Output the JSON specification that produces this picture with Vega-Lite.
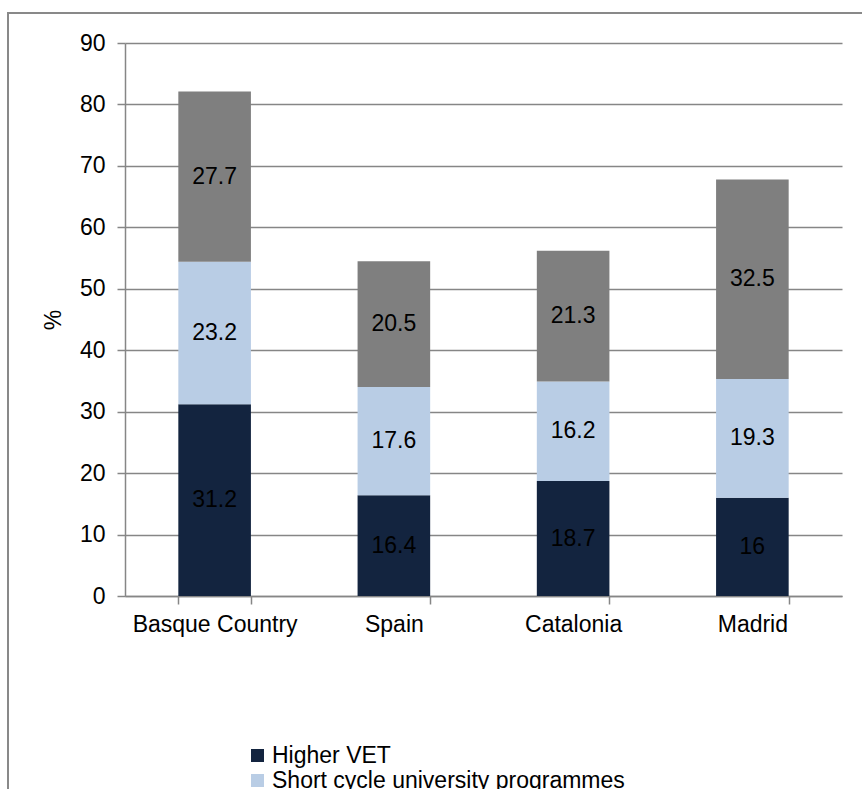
{
  "$schema": "https://vega.github.io/schema/vega-lite/v6.json",
  "autosize": {"type": "none"},
  "padding": {"left": 8, "top": 13, "right": 0, "bottom": 0},
  "width": 860,
  "height": 790,
  "background": "white",
  "config": {
    "font": "Liberation Sans",
    "view": {"stroke": "#898989", "strokeWidth": 2},
    "axis": {"labelFont": "Liberation Sans", "titleFont": "Liberation Sans"}
  },
  "data": {
    "values": [
      {"region": "Basque Country", "type": "Higher VET", "value": 31.2},
      {"region": "Basque Country", "type": "Short cycle university programmes", "value": 23.2},
      {"region": "Basque Country", "type": "Long cycle university programmes", "value": 27.7},
      {"region": "Spain", "type": "Higher VET", "value": 16.4},
      {"region": "Spain", "type": "Short cycle university programmes", "value": 17.6},
      {"region": "Spain", "type": "Long cycle university programmes", "value": 20.5},
      {"region": "Catalonia", "type": "Higher VET", "value": 18.7},
      {"region": "Catalonia", "type": "Short cycle university programmes", "value": 16.2},
      {"region": "Catalonia", "type": "Long cycle university programmes", "value": 21.3},
      {"region": "Madrid", "type": "Higher VET", "value": 16},
      {"region": "Madrid", "type": "Short cycle university programmes", "value": 19.3},
      {"region": "Madrid", "type": "Long cycle university programmes", "value": 32.5}
    ]
  },
  "transform": [
    {"calculate": "datum.type === 'Higher VET' ? 0 : datum.type === 'Short cycle university programmes' ? 1 : 2", "as": "order"},
    {"stack": "value", "groupby": ["region"], "sort": [{"field": "order", "order": "ascending"}], "as": ["v0", "v1"]},
    {"calculate": "(datum.v0 + datum.v1) / 2", "as": "mid"}
  ],
  "encoding": {
    "x": {
      "field": "region",
      "type": "nominal",
      "sort": ["Basque Country", "Spain", "Catalonia", "Madrid"],
      "scale": {"range": [117, 834], "paddingInner": 0.595, "paddingOuter": 0.2975},
      "axis": {
        "title": null,
        "offset": -207,
        "labelAngle": 0,
        "labelFontSize": 23,
        "labelColor": "#000000",
        "labelPadding": 9,
        "tickBand": "extent",
        "tickSize": 8,
        "tickColor": "#868686",
        "tickWidth": 1.5,
        "domainColor": "#868686",
        "domainWidth": 1.5,
        "grid": false
      }
    }
  },
  "layer": [
    {
      "mark": {"type": "bar"},
      "encoding": {
        "y": {
          "field": "v1",
          "type": "quantitative",
          "scale": {"domain": [0, 90], "range": [583, 30], "nice": false},
          "axis": {
            "title": "%",
            "titleFontSize": 23,
            "titleFontWeight": "normal",
            "titleColor": "#000000",
            "titlePadding": 14,
            "offset": -117,
            "values": [0, 10, 20, 30, 40, 50, 60, 70, 80, 90],
            "labelFontSize": 23,
            "labelColor": "#000000",
            "labelPadding": 12,
            "tickSize": 8,
            "tickColor": "#868686",
            "tickWidth": 1.5,
            "domainColor": "#868686",
            "domainWidth": 1.5,
            "grid": true,
            "gridColor": "#868686",
            "gridWidth": 1.5
          }
        },
        "y2": {"field": "v0"},
        "color": {
          "field": "type",
          "type": "nominal",
          "sort": ["Higher VET", "Short cycle university programmes", "Long cycle university programmes"],
          "scale": {
            "domain": ["Higher VET", "Short cycle university programmes", "Long cycle university programmes"],
            "range": ["#13243f", "#b9cde5", "#7f7f7f"]
          },
          "legend": {
            "title": null,
            "orient": "none",
            "legendX": 238,
            "legendY": 731,
            "direction": "vertical",
            "symbolType": "square",
            "symbolSize": 169,
            "symbolStrokeWidth": 0,
            "labelFontSize": 23,
            "labelColor": "#000000",
            "labelOffset": 3,
            "rowPadding": 1,
            "padding": 0,
            "labelLimit": 700
          }
        }
      }
    },
    {
      "mark": {"type": "text", "fontSize": 23, "color": "#000000", "baseline": "middle", "align": "center"},
      "encoding": {
        "y": {"field": "mid", "type": "quantitative"},
        "text": {"field": "value", "type": "quantitative"}
      }
    }
  ]
}
